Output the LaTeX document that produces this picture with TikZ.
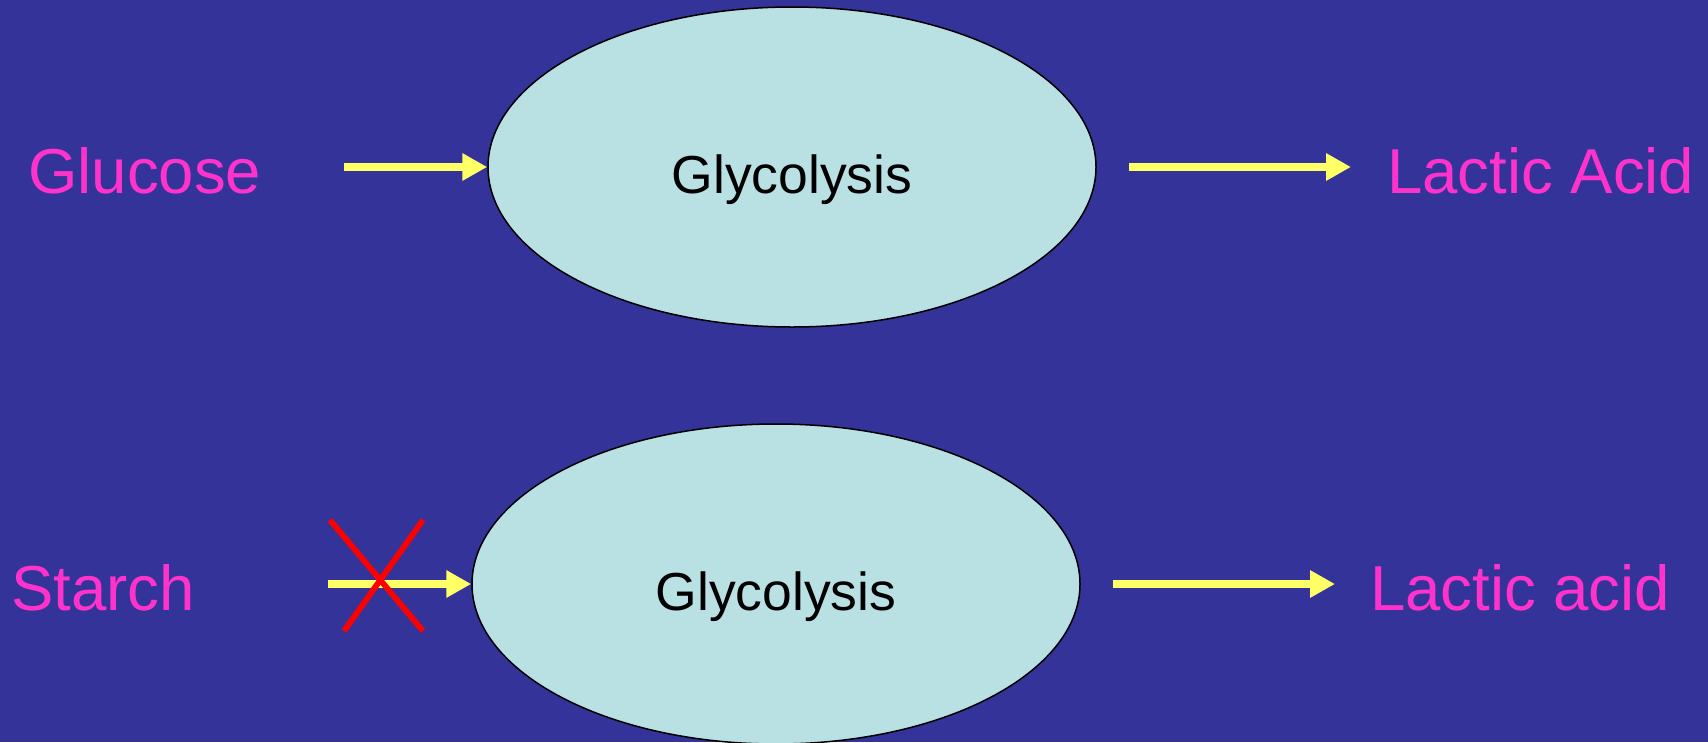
\documentclass[tikz,border=0pt]{standalone}
\usepackage{fontspec}
\setmainfont{Liberation Sans}
\usetikzlibrary{shapes.geometric,arrows.meta}

\definecolor{slidebg}{HTML}{333399}
\definecolor{cellfill}{HTML}{B9E0E3}
\definecolor{labelpink}{HTML}{FF33CC}
\definecolor{flowyellow}{HTML}{FFFF66}
\definecolor{blockred}{HTML}{FF0000}

\tikzset{
  pathway/.style={ellipse, draw=black, line width=1.5pt, fill=cellfill,
                  minimum width=608pt, minimum height=320pt, inner sep=0pt},
  pathlabel/.style={anchor=base, text=black, font=\fontsize{53.5pt}{60pt}\selectfont, inner sep=0pt},
  substance/.style={anchor=base west, text=labelpink, font=\fontsize{63.5pt}{70pt}\selectfont, inner sep=0pt},
  flow/.style={draw=flowyellow, line width=8pt,
               -{Triangle[length=25pt,width=26pt]}},
  block/.style={draw=blockred, line width=5.8pt}
}

\begin{document}
\begin{tikzpicture}[x=1pt,y=-1pt]
  % canvas
  \fill[slidebg] (0,0) rectangle (1708,742);
  \useasboundingbox (0,0) rectangle (1708,742);

  % --- upper pathway: glucose is fermented ---
  \node[pathway] (glyA) at (792,167) {};
  \node[pathlabel] (glyAtxt) at (792,193) {Glycolysis};
  \node[substance] (glucose) at (28,193) {Glucose};
  \node[substance] (lacticA) at (1387,193) {Lactic Acid};
  \coordinate (inA) at (344,167);
  \coordinate (outA) at (1351,167);
  \draw[flow] (inA) -- (glyA.west);
  \draw[flow] (glyA.east) ++(32,0) coordinate (outAstart) -- (outA);

  % --- lower pathway: starch does not enter ---
  \node[pathway] (glyB) at (776,584) {};
  \node[pathlabel] (glyBtxt) at (776,610) {Glycolysis};
  \node[substance] (starch) at (11,610) {Starch};
  \node[substance] (lacticB) at (1370,610) {Lactic acid};
  \coordinate (inB) at (328,584);
  \coordinate (outB) at (1335,584);
  \draw[flow] (inB) -- (glyB.west);
  \draw[flow] (glyB.east) ++(32,0) coordinate (outBstart) -- (outB);

  % blocked entry
  \draw[block] (330,520) -- (423,631);
  \draw[block] (423,520) -- (344,631);
\end{tikzpicture}
\end{document}
